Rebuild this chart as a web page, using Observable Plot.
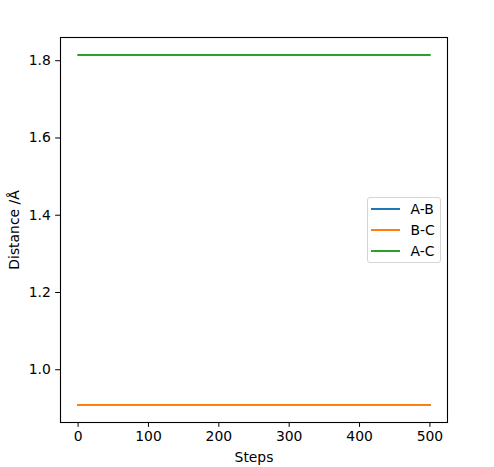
<!DOCTYPE html>
<html>
<head>
<meta charset="utf-8">
<script src="https://cdn.jsdelivr.net/npm/d3@7"></script>
<script src="https://cdn.jsdelivr.net/npm/@observablehq/plot@0.6"></script>
<style>
  html, body { margin: 0; padding: 0; background: #fff; }
  #wrap { position: relative; width: 494px; height: 467px; font-family: "DejaVu Sans", sans-serif; }
  .legend { position: absolute; left: 366.5px; top: 196.5px; width: 74px; height: 66px;
    border: 1px solid #d4d4d4; border-radius: 3px; background: rgba(255,255,255,0.8); box-sizing: border-box; }
  .row { position: absolute; left: 0; height: 16px; font-size: 13.9px; line-height: 16px; color: #000; }
  .sw { position: absolute; left: 3px; width: 29px; height: 2px; top: 7px; }
  .lab { position: absolute; left: 43px; top: 0; white-space: nowrap; }
</style>
</head>
<body>
<div id="wrap"></div>
<script>
const steps = [0, 100, 200, 300, 400, 500];
const seriesNames = ["A-B", "B-C", "A-C"];
const abValues = [0.9087, 0.9087, 0.9087, 0.9087, 0.9087, 0.9087];
const bcValues = [0.9087, 0.9087, 0.9087, 0.9087, 0.9087, 0.9087];
const acValues = [1.8148, 1.8148, 1.8148, 1.8148, 1.8148, 1.8148];
const colors = ["#1f77b4", "#ff7f0e", "#2ca02c"];
const xTicks = [0, 100, 200, 300, 400, 500];
const yTicks = [1.0, 1.2, 1.4, 1.6, 1.8];

const valueSets = [abValues, bcValues, acValues];
const data = [];
seriesNames.forEach((name, i) => {
  steps.forEach((s, j) => data.push({series: name, step: s, value: valueSets[i][j]}));
});

const chart = Plot.plot({
  width: 494,
  height: 467,
  marginLeft: 60,
  marginRight: 47,
  marginTop: 37,
  marginBottom: 45,
  style: {fontFamily: "DejaVu Sans, sans-serif", fontSize: "13.9px", color: "#000", background: "#fff"},
  x: {domain: [-25, 525], ticks: xTicks, tickFormat: d => String(d), tickSize: 4.86, tickPadding: 3.5,
      label: "Steps", labelAnchor: "center", labelArrow: "none", labelOffset: 39},
  y: {domain: [0.8634, 1.8601], ticks: yTicks, tickFormat: d => d.toFixed(1), tickSize: 4.86, tickPadding: 4.86,
      label: "Distance /Å", labelAnchor: "center", labelArrow: "none", labelOffset: 51},
  color: {domain: seriesNames, range: colors},
  marks: [
    Plot.lineY(data, {x: "step", y: "value", stroke: "series", strokeWidth: 2.08}),
    Plot.frame({stroke: "#000", strokeWidth: 1.1})
  ]
});
const wrap = document.getElementById("wrap");
wrap.appendChild(chart);

const legend = document.createElement("div");
legend.className = "legend";
seriesNames.forEach((name, i) => {
  const row = document.createElement("div");
  row.className = "row";
  row.style.top = (3 + i * 21) + "px";
  row.style.width = "100%";
  const sw = document.createElement("div");
  sw.className = "sw";
  sw.style.background = colors[i];
  const lab = document.createElement("span");
  lab.className = "lab";
  lab.textContent = name;
  row.appendChild(sw);
  row.appendChild(lab);
  legend.appendChild(row);
});
wrap.appendChild(legend);
</script>
</body>
</html>
